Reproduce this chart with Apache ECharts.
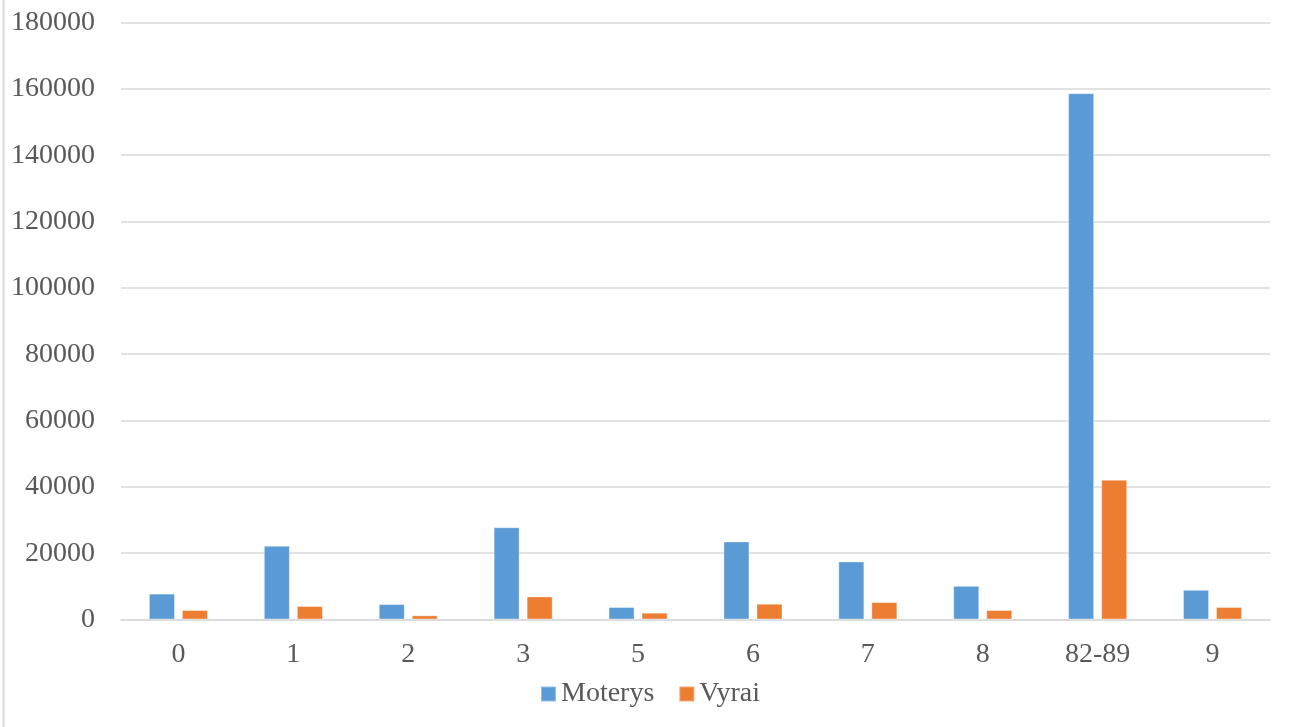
<!DOCTYPE html>
<html>
<head>
<meta charset="utf-8">
<script src="https://cdn.jsdelivr.net/npm/echarts@6/dist/echarts.min.js"></script>
<style>
html,body{margin:0;padding:0;background:#fff;}
#c{width:1289px;height:727px;}
</style>
</head>
<body>
<div id="c"></div>
<script>
const categories = ['0','1','2','3','5','6','7','8','82-89','9'];
const moterys = [7800, 22200, 4650, 27800, 3750, 23550, 17500, 10150, 158700, 8950];
const vyrai = [2850, 4050, 1250, 6950, 2050, 4750, 5250, 2850, 42100, 3750];
const seriesNames = ['Moterys', 'Vyrai'];

const font = '"Liberation Serif", "Times New Roman", serif';
const chart = echarts.init(document.getElementById('c'));
chart.setOption({
  animation: false,
  backgroundColor: '#ffffff',
  grid: { left: 121, right: 19, top: 22.5, bottom: 107.5, containLabel: false },
  legend: {
    data: seriesNames,
    left: 535,
    top: 675,
    itemWidth: 15,
    itemHeight: 15,
    itemGap: 24,
    icon: 'rect',
    textStyle: { fontFamily: font, fontSize: 28, color: '#595959' }
  },
  xAxis: {
    type: 'category',
    data: categories,
    axisLine: { show: true, lineStyle: { color: '#d9d9d9', width: 1.5 } },
    axisTick: { show: false },
    axisLabel: { fontFamily: font, fontSize: 28, color: '#595959', margin: 21 }
  },
  yAxis: {
    type: 'value',
    min: 0,
    max: 180000,
    interval: 20000,
    axisLine: { show: false },
    axisTick: { show: false },
    splitLine: { lineStyle: { color: '#d9d9d9', width: 1.5 } },
    axisLabel: { fontFamily: font, fontSize: 28, color: '#595959', margin: 26,
      formatter: function (v) { return String(v); } }
  },
  graphic: [{
    type: 'line',
    shape: { x1: 3.5, y1: 0, x2: 3.5, y2: 727 },
    style: { stroke: '#d9d9d9', lineWidth: 2 }
  }],
  series: [
    {
      name: seriesNames[0], type: 'bar', data: moterys,
      barWidth: 26, barGap: '27%',
      itemStyle: { color: '#5B9BD5', borderColor: 'rgba(255,255,255,0.35)', borderWidth: 1 }
    },
    {
      name: seriesNames[1], type: 'bar', data: vyrai,
      barWidth: 26, barGap: '27%',
      itemStyle: { color: '#ED7D31', borderColor: 'rgba(255,255,255,0.35)', borderWidth: 1 }
    }
  ]
});
</script>
</body>
</html>
